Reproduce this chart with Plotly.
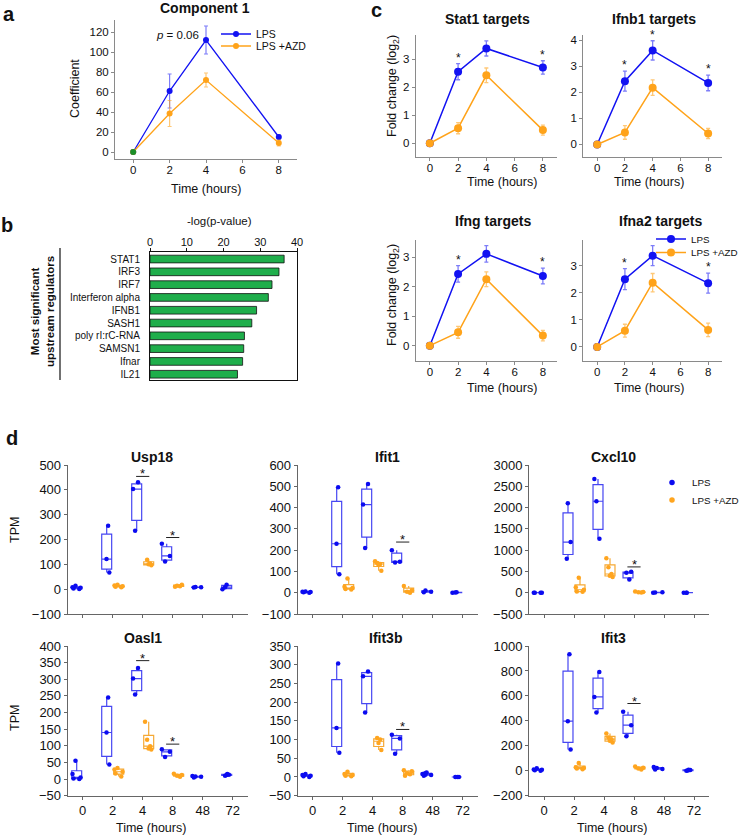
import plotly.graph_objects as go

W, H = 739, 835
FONT = "Liberation Sans, Arial, Helvetica, sans-serif"
BLUE = "#1212f2"
ORANGE = "#ffa31a"
BLUE_ERR = "rgba(18,18,242,0.55)"
ORANGE_ERR = "rgba(255,163,26,0.6)"
GREEN_PT = "#1b8f2a"
GREEN_BAR = "#1fae4b"

# ---------------- Panel a ----------------
a_times = [0, 2, 4, 8]
a_lps = [0, 61, 112, 15]
a_lps_err = [0, 17, 14, 2]
a_azd = [0, 38.5, 72, 9]
a_azd_err = [0, 13, 7, 3]

# ---------------- Panel b ----------------
b_regulators = ["STAT1", "IRF3", "IRF7", "Interferon alpha", "IFNB1", "SASH1",
                "poly rI:rC-RNA", "SAMSN1", "Ifnar", "IL21"]
b_logp = [36.5, 35.1, 33.2, 32.2, 29.0, 27.7, 25.7, 25.5, 25.2, 23.8]

# ---------------- Panel c ----------------
c_times = [0, 2, 4, 8]
c_titles = ["Stat1 targets", "Ifnb1 targets", "Ifng targets", "Ifna2 targets"]
c_lps = [[0, 2.56, 3.39, 2.71], [0, 2.43, 3.61, 2.36], [0, 2.43, 3.11, 2.36], [0, 2.51, 3.38, 2.36]]
c_lps_err = [[0, 0.29, 0.27, 0.24], [0, 0.38, 0.37, 0.30], [0, 0.28, 0.28, 0.27], [0, 0.39, 0.37, 0.37]]
c_azd = [[0, 0.54, 2.43, 0.47], [0, 0.46, 2.18, 0.42], [0, 0.45, 2.25, 0.34], [0, 0.60, 2.38, 0.63]]
c_azd_err = [[0, 0.20, 0.26, 0.18], [0, 0.26, 0.30, 0.20], [0, 0.20, 0.25, 0.18], [0, 0.24, 0.34, 0.25]]
c_sig_times = [[2, 8], [2, 4, 8], [2, 8], [2, 8]]
c_yticks = [[0, 1, 2, 3], [0, 1, 2, 3, 4], [0, 1, 2, 3], [0, 1, 2, 3]]

# ---------------- Panel d ----------------
d_times = ["0", "2", "4", "8", "48", "72"]
d_azd_idx = [1, 2, 3]
d_genes = ["Usp18", "Ifit1", "Cxcl10", "Oasl1", "Ifit3b", "Ifit3"]

usp18_lps = [[3, 8, 14, 1, 6], [67, 121, 255], [235, 403, 431], [111, 134, 183], [7, 8, 9], [0, 8, 18]]
usp18_azd = [[8, 10, 12, 15, 18], [96, 100, 103, 118], [10, 12, 14, 18]]
usp18_sig = [[2, 454], [3, 208]]

ifit1_lps = [[2, 5, 0, 3, 6], [87, 230, 495], [210, 414, 511], [142, 145, 200], [2, 4, 10], [0, 1, 2]]
ifit1_azd = [[15, 18, 22, 28, 67], [103, 130, 135, 140, 148], [0, 5, 12, 32]]
ifit1_sig = [[3, 238]]

cxcl10_lps = [[0, 0, 0, 0], [800, 1190, 2102], [1268, 2148, 2670], [310, 470, 490], [0, 5, 10], [0, 0, 0]]
cxcl10_azd = [[20, 30, 70, 130, 350], [370, 400, 440, 600, 810], [5, 10, 15, 30]]
cxcl10_sig = [[3, 606]]

oasl1_lps = [[0, 2, 5, 15, 55], [44, 140, 245], [254, 302, 334], [66, 82, 90], [5, 7, 8, 9], [10, 12, 13, 15]]
oasl1_azd = [[8, 17, 22, 29, 33], [89, 92, 99, 118, 172], [7, 10, 12, 16]]
oasl1_sig = [[2, 356], [3, 105]]

ifit3b_lps = [[0, 2, 5, 8, 3], [65, 131, 303], [172, 269, 282], [62, 103, 113], [3, 5, 6, 8, 10, 12], [0, 0, 0]]
ifit3b_azd = [[2, 3, 5, 8, 14], [72, 91, 100, 104], [3, 7, 10, 15, 18]]
ifit3b_sig = [[3, 127]]

ifit3_lps = [[0, 5, 10, 20, 8], [171, 397, 933], [467, 592, 792], [277, 365, 472], [10, 15, 22, 30], [0, 3, 6, 8]]
ifit3_azd = [[12, 18, 22, 28, 62], [227, 240, 253, 267, 299], [10, 18, 25, 35]]
ifit3_sig = [[3, 539]]

d_lps = [usp18_lps, ifit1_lps, cxcl10_lps, oasl1_lps, ifit3b_lps, ifit3_lps]
d_azd = [usp18_azd, ifit1_azd, cxcl10_azd, oasl1_azd, ifit3b_azd, ifit3_azd]
d_sig = [usp18_sig, ifit1_sig, cxcl10_sig, oasl1_sig, ifit3b_sig, ifit3_sig]
d_yrange = [[-100, 500], [-100, 600], [-500, 3000], [-50, 400], [-50, 350], [-200, 1000]]
d_dtick = [100, 100, 500, 50, 50, 200]


def xd(l, r):
    return [l / W, r / W]


def yd(t, b):
    return [1 - b / H, 1 - t / H]


def px(x):
    return x / W


def py(y):
    return 1 - y / H


fig = go.Figure()
ann = []
shapes = []

GRAY = "#8a8a8a"
DGRAY = "#666666"


def axstyle(color, **kw):
    d = dict(showgrid=False, zeroline=False, showline=True, linecolor=color, linewidth=1,
             ticks="outside", ticklen=3, tickcolor=color, tickwidth=1, automargin=False,
             tickfont=dict(size=11, color="#111"))
    d.update(kw)
    return d


def text(x, y, s, size=12, bold=False, angle=0, xanchor="center", yanchor="middle", color="#111"):
    ann.append(dict(x=px(x), y=py(y), xref="paper", yref="paper", text=(f"<b>{s}</b>" if bold else s),
                    showarrow=False, textangle=angle, xanchor=xanchor, yanchor=yanchor,
                    font=dict(size=size, color=color, family=FONT)))


def legend_box(x, ytop, size=10):
    return dict(x=px(x), y=py(ytop), xanchor="left", yanchor="top", bgcolor="rgba(0,0,0,0)",
                font=dict(size=size, family=FONT, color="#111"), itemwidth=30)


# ================= Panel a =================
fig.add_trace(go.Scatter(x=a_times, y=a_lps, mode="lines+markers", name="LPS",
                         line=dict(color=BLUE, width=1.3), marker=dict(color=BLUE, size=6),
                         error_y=dict(type="data", array=a_lps_err, color=BLUE_ERR, thickness=1.2, width=2),
                         xaxis="x", yaxis="y", legend="legend"))
fig.add_trace(go.Scatter(x=a_times, y=a_azd, mode="lines+markers", name="LPS +AZD",
                         line=dict(color=ORANGE, width=1.3), marker=dict(color=ORANGE, size=6),
                         error_y=dict(type="data", array=a_azd_err, color=ORANGE_ERR, thickness=1.2, width=2),
                         xaxis="x", yaxis="y", legend="legend4"))
fig.add_trace(go.Scatter(x=a_times[:1], y=a_lps[:1], mode="markers", showlegend=False,
                         marker=dict(color=GREEN_PT, size=6), xaxis="x", yaxis="y"))
fig.update_layout(
    xaxis=axstyle(GRAY, domain=xd(115, 297), range=[-1, 9], tickvals=[0, 2, 4, 6, 8], anchor="y",
                  tickfont=dict(size=11.5, color="#111"), ticklabelstandoff=-3),
    yaxis=axstyle(GRAY, domain=yd(20, 159), range=[-7, 132], tickvals=[0, 20, 40, 60, 80, 100, 120], anchor="x",
                  tickfont=dict(size=11.5, color="#111")),
    legend=legend_box(216, 19.5, 10.5),
    legend4=legend_box(216, 31.5, 10.5),
)
ann.append(dict(x=4, y=117, xref="x", yref="y", text="<i>p</i> = 0.06", showarrow=False,
                xanchor="right", xshift=-5, font=dict(size=11.5, family=FONT, color="#111")))
text(205, 8, "Component 1", size=14, bold=True)
text(75, 89, "Coefficient", size=12.5, angle=-90)
text(206, 189, "Time (hours)", size=12.5)
text(9, 14, "a", size=20, bold=True)

# ================= Panel b =================
fig.add_trace(go.Bar(x=b_logp, y=b_regulators, orientation="h", width=0.6,
                     marker=dict(color=GREEN_BAR, line=dict(color="#111", width=0.8)),
                     showlegend=False, xaxis="x2", yaxis="y2"))
fig.update_layout(
    xaxis2=axstyle("#111", domain=xd(150, 297), range=[0, 40], tickvals=[0, 10, 20, 30, 40], side="top",
                   mirror=True, anchor="y2", tickfont=dict(size=11, color="#111"), ticklabelstandoff=-2),
    yaxis2=dict(domain=yd(252, 380), type="category", categoryorder="array", categoryarray=b_regulators,
                range=[9.45, -0.55], showgrid=False, zeroline=False, showline=True, mirror=True,
                linecolor="#111", ticks="", ticklabelstandoff=7, anchor="x2", automargin=False,
                tickfont=dict(size=10, color="#111")),
)
text(219, 221, "-log(p-value)", size=11.5)
text(42, 312, "Most significant<br>upstream regulators", size=11.5, bold=True, angle=-90)
shapes.append(dict(type="line", xref="paper", yref="paper", x0=px(60), x1=px(60), y0=py(248), y1=py(380),
                   line=dict(color="#111", width=1.2)))
text(7, 225, "b", size=20, bold=True)

# ================= Panel c =================
c_xdom = [xd(415.7, 557), xd(583.3, 722), xd(415.7, 557), xd(583.3, 722)]
c_ydom = [yd(35, 156.7), yd(35, 156.7), yd(240, 360.7), yd(240, 360.7)]
c_yrange = [[-0.48, 3.87], [-0.47, 4.2], [-0.51, 3.58], [-0.51, 3.96]]
c_title_pos = [(487, 19.5), (654, 19.5), (493, 221), (660, 221)]
for k in range(4):
    n = 3 + k
    xa, ya = f"x{n}", f"y{n}"
    last = (k == 3)
    fig.add_trace(go.Scatter(x=c_times, y=c_lps[k], mode="lines+markers", name="LPS",
                             line=dict(color=BLUE, width=1.5), marker=dict(color=BLUE, size=8),
                             error_y=dict(type="data", array=c_lps_err[k], color=BLUE_ERR, thickness=1.3, width=2),
                             xaxis=xa, yaxis=ya, showlegend=last, legend="legend2"))
    fig.add_trace(go.Scatter(x=c_times, y=c_azd[k], mode="lines+markers", name="LPS +AZD",
                             line=dict(color=ORANGE, width=1.5), marker=dict(color=ORANGE, size=8),
                             error_y=dict(type="data", array=c_azd_err[k], color=ORANGE_ERR, thickness=1.3, width=2),
                             xaxis=xa, yaxis=ya, showlegend=last, legend="legend5"))
    fig.layout[f"xaxis{n}"] = axstyle(GRAY, domain=c_xdom[k], range=[-1, 9], tickvals=[0, 2, 4, 6, 8], anchor=ya,
                                      tickfont=dict(size=11.5, color="#111"), ticklabelstandoff=-3)
    fig.layout[f"yaxis{n}"] = axstyle(GRAY, domain=c_ydom[k], range=c_yrange[k], tickvals=c_yticks[k], anchor=xa,
                                      tickfont=dict(size=11.5, color="#111"))
    for t in c_sig_times[k]:
        i = c_times.index(t)
        ann.append(dict(x=t, y=c_lps[k][i] + c_lps_err[k][i], xref=xa, yref=ya, text="*", showarrow=False,
                        yanchor="bottom", yshift=-3, font=dict(size=12, family=FONT, color="#111")))
    tx, ty = c_title_pos[k]
    text(tx, ty, c_titles[k], size=14, bold=True)
text(393, 86, "Fold change (log<sub>2</sub>)", size=12.5, angle=-90)
text(393, 295, "Fold change (log<sub>2</sub>)", size=12.5, angle=-90)
text(502, 182, "Time (hours)", size=12.5)
text(649, 182, "Time (hours)", size=12.5)
text(502, 388, "Time (hours)", size=12.5)
text(649, 388, "Time (hours)", size=12.5)
text(376, 10, "c", size=20, bold=True)
fig.update_layout(legend2=legend_box(651, 224.5, 9.8), legend5=legend_box(651, 238, 9.8))

# ================= Panel d =================
d_xdom = [xd(67.7, 247.7), xd(297.7, 477.7), xd(529, 709)] * 2
d_ydom = [yd(465, 614)] * 3 + [yd(646, 795.7)] * 3
d_title_pos = [(152, 457), (387, 457), (613, 457), (143, 638), (385, 638), (613, 638)]
for k in range(6):
    n = 7 + k
    xa, ya = f"x{n}", f"y{n}"
    lps = d_lps[k]
    azd = d_azd[k]
    lx = [i for i, vals in enumerate(lps) for _ in vals]
    ly = [v for vals in lps for v in vals]
    ax_ = [d_azd_idx[j] for j, vals in enumerate(azd) for _ in vals]
    ay = [v for vals in azd for v in vals]
    fig.add_trace(go.Box(x=lx, y=ly, name="LPS", boxpoints="all", pointpos=0, jitter=1,
                         alignmentgroup=f"d{k}", offsetgroup="lps",
                         marker=dict(color="#0b0bf0", size=4.5), line=dict(color="#4646f2", width=1.2),
                         fillcolor="rgba(255,255,255,0)", whiskerwidth=0, showlegend=False,
                         xaxis=xa, yaxis=ya))
    fig.add_trace(go.Box(x=ax_, y=ay, name="LPS +AZD", boxpoints="all", pointpos=0, jitter=1,
                         alignmentgroup=f"d{k}", offsetgroup="azd",
                         marker=dict(color="#ffa51f", size=4.5), line=dict(color="#f5a935", width=1.2),
                         fillcolor="rgba(255,255,255,0)", whiskerwidth=0, showlegend=False,
                         xaxis=xa, yaxis=ya))
    bottom = k >= 3
    fig.layout[f"xaxis{n}"] = axstyle(DGRAY, domain=d_xdom[k], range=[-0.5, 5.5], tickvals=list(range(6)),
                                      ticktext=d_times, showticklabels=bottom, anchor=ya,
                                      tickfont=dict(size=13, color="#111"))
    fig.layout[f"yaxis{n}"] = axstyle(DGRAY, domain=d_ydom[k], range=d_yrange[k], dtick=d_dtick[k],
                                      tick0=0, anchor=xa, tickfont=dict(size=13, color="#111"))
    for i, yv in d_sig[k]:
        shapes.append(dict(type="line", xref=xa, yref=ya, x0=i - 0.22, x1=i + 0.22, y0=yv, y1=yv,
                           line=dict(color="#222", width=1)))
        ann.append(dict(x=i, y=yv, xref=xa, yref=ya, text="*", showarrow=False, yanchor="middle",
                        yshift=2.5, font=dict(size=13, family=FONT, color="#111")))
    tx, ty = d_title_pos[k]
    text(tx, ty, d_genes[k], size=14, bold=True)

fig.add_trace(go.Scatter(x=[None], y=[None], mode="markers", name="LPS", marker=dict(color="#0b0bf0", size=5.5),
                         legend="legend3", xaxis="x9", yaxis="y9"))
fig.add_trace(go.Scatter(x=[None], y=[None], mode="markers", name="LPS +AZD", marker=dict(color="#ffa51f", size=5.5),
                         legend="legend6", xaxis="x9", yaxis="y9"))
fig.update_layout(legend3=legend_box(652, 468, 9.8), legend6=legend_box(652, 485.5, 9.8))

text(15, 530, "TPM", size=12.5, angle=-90)
text(15, 718, "TPM", size=12.5, angle=-90)
text(151, 828, "Time (hours)", size=12.5)
text(382, 828, "Time (hours)", size=12.5)
text(612, 828, "Time (hours)", size=12.5)
text(12, 438, "d", size=20, bold=True)

fig.update_layout(
    template="none",
    width=W, height=H, autosize=False, margin=dict(l=0, r=0, t=0, b=0, pad=0, autoexpand=False),
    paper_bgcolor="white", plot_bgcolor="rgba(0,0,0,0)",
    font=dict(family=FONT, color="#111"),
    boxmode="group", boxgap=0.2, boxgroupgap=0.17,
    annotations=ann, shapes=shapes,
)

fig.write_html("out.html", config={"displayModeBar": False},
               post_script="document.body.style.margin='0px';document.body.style.overflow='hidden';")
